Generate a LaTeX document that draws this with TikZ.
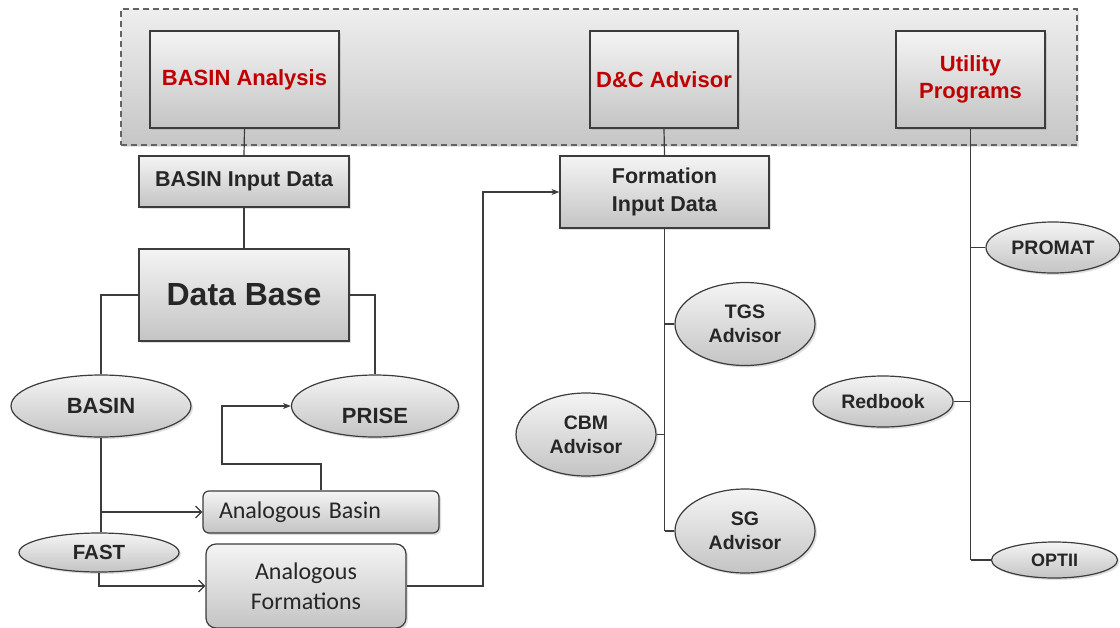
\documentclass[tikz,border=0pt]{standalone}
\usepackage{fontspec}
\setmainfont{Liberation Sans}
\newfontfamily\carlitofont{Carlito}
\usetikzlibrary{shapes.geometric,shadows,arrows.meta}
\definecolor{redtxt}{RGB}{192,0,0}
\definecolor{darktxt}{RGB}{38,38,38}
\definecolor{linec}{RGB}{60,60,60}
\definecolor{topc}{RGB}{244,244,244}
\definecolor{botc}{RGB}{196,196,196}
\definecolor{conttop}{RGB}{238,238,238}
\definecolor{contbot}{RGB}{198,198,198}
\begin{document}
\begin{tikzpicture}[x=1pt,y=-1pt,
  base/.style={draw=linec, line width=1.2pt, top color=topc, bottom color=botc,
    text=darktxt, inner sep=0pt, align=center,
    drop shadow={shadow xshift=2pt,shadow yshift=-2pt,opacity=0.25}},
  topbox/.style={base, minimum height=97pt, text=redtxt,
    font=\bfseries\fontsize{22}{27}\selectfont},
  midbox/.style={base, font=\bfseries\fontsize{21.5}{28}\selectfont},
  ell/.style={base, ellipse, font=\bfseries\fontsize{22}{26}\selectfont},
  smallell/.style={base, ellipse, font=\bfseries\fontsize{19.5}{24}\selectfont},
  anbox/.style={base, rounded corners=6pt, font=\carlitofont\fontsize{24}{30}\selectfont},
  conn/.style={draw=linec, line width=1.2pt},
  arr/.style={conn, -{Stealth[length=8pt,width=6pt]}},
  oarr/.style={conn, -{Straight Barb[length=6pt,width=12pt]}}
  ]
\useasboundingbox (0,0) rectangle (1120,627);

% container
\node[draw=linec!80, line width=1.1pt, dash pattern=on 6pt off 4pt,
  top color=conttop, bottom color=contbot, minimum width=956pt, minimum height=136pt,
  inner sep=0pt, drop shadow={shadow xshift=2pt,shadow yshift=-2pt,opacity=0.2}]
  (cont) at (599,77) {};

% top boxes
\node[topbox, minimum width=189pt] (BA) at (244.5,79.5) {BASIN Analysis};
\node[topbox, minimum width=148pt] (DC) at (664,79.5) {D\&C Advisor};
\node[topbox, minimum width=149pt] (UP) at (970.5,79.5) {Utility\\Programs};

% input boxes
\node[midbox, minimum width=210pt, minimum height=51pt] (BID) at (244,181.5) {BASIN Input Data};
\node[base, minimum width=210pt, minimum height=92pt,
  font=\bfseries\fontsize{32}{36}\selectfont] (DB) at (244,295) {Data Base};
\node[midbox, minimum width=209pt, minimum height=72pt] (FID) at (664.5,192) {Formation\\Input Data};

% left ellipses
\node[ell, minimum width=180pt, minimum height=62pt] (BASIN) at (101,406) {BASIN};
\node[ell, minimum width=167pt, minimum height=62pt] (PRISE) at (375,406) {\raisebox{-17pt}[0pt][0pt]{PRISE}};
\node[ell, minimum width=160pt, minimum height=39pt,
  font=\bfseries\fontsize{20.5}{24}\selectfont] (FAST) at (99,552.5) {FAST};

% analogous boxes
\node[anbox, minimum width=236pt, minimum height=42pt, text width=204pt,
  inner xsep=16pt, align=left] (AB) at (321,512) {Analogous Basin};
\node[anbox, rounded corners=10pt, minimum width=200pt, minimum height=84pt] (AF) at (306,586) {Analogous\\Formations};

% advisors
\node[smallell, minimum width=140pt, minimum height=83pt] (TGS) at (745,324) {TGS\\Advisor};
\node[smallell, minimum width=140pt, minimum height=83pt] (CBM) at (586,434.5) {CBM\\Advisor};
\node[smallell, minimum width=140pt, minimum height=84pt] (SG) at (745,531) {SG\\Advisor};

% utility programs
\node[smallell, minimum width=140pt, minimum height=51pt] (RB) at (883,401.5) {Redbook};
\node[smallell, minimum width=134pt, minimum height=51pt] (PROMAT) at (1053,247.5) {PROMAT};
\node[smallell, minimum width=126pt, minimum height=36pt,
  font=\bfseries\fontsize{18}{22}\selectfont] (OPTII) at (1054.5,560) {OPTII};

% helper coordinates
\coordinate (p1) at (222,464);
\coordinate (p2) at (483,400);

% connectors left
\draw[conn] (BA.south) -- (BID.north);
\draw[conn] (BID.south) -- (DB.north);
\draw[conn] (DB.west) -| (BASIN.north);
\draw[conn] (DB.east) -| (PRISE.north);
\draw[conn] (BASIN.south) -- (BASIN.south |- FAST.north);
\draw[oarr] (BASIN.south |- AB.west) -- (AB.west);
\draw[oarr] (FAST.south) |- (AF.west);
\draw[arr] (AB.north) |- (p1) |- (PRISE.west);
\draw[arr] (AF.east) -| (p2) |- (FID.west);

% connectors middle
\draw[conn] (DC.south) -- (FID.north);
\draw[conn] (FID.south) -- (FID.south |- SG.west);
\draw[conn] (FID.south |- TGS.west) -- (TGS.west);
\draw[conn] (FID.south |- CBM.east) -- (CBM.east);
\draw[conn] (FID.south |- SG.west) -- (SG.west);

% connectors right
\draw[conn] (UP.south) -- (UP.south |- OPTII.west);
\draw[conn] (UP.south |- PROMAT.west) -- (PROMAT.west);
\draw[conn] (UP.south |- RB.east) -- (RB.east);
\draw[conn] (UP.south |- OPTII.west) -- (OPTII.west);
\end{tikzpicture}
\end{document}
